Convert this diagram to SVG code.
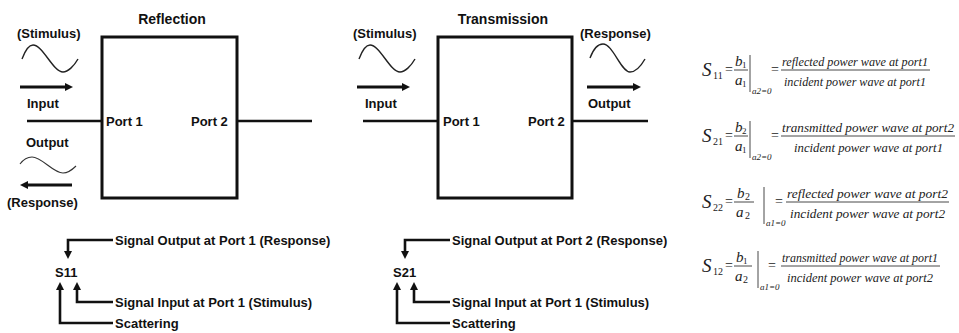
<svg xmlns="http://www.w3.org/2000/svg" width="959" height="333" viewBox="0 0 959 333">
<style>
.lbl{font-family:"Liberation Sans",Arial,sans-serif;font-weight:bold;font-size:13px;fill:#111}
.ttl{font-family:"Liberation Sans",Arial,sans-serif;font-weight:bold;font-size:14px;fill:#111}
.box{fill:none;stroke:#111;stroke-width:3}
.wire{stroke:#111;stroke-width:2.5;fill:none}
.wave{stroke:#222;stroke-width:1.4;fill:none}
.wave2{stroke:#333;stroke-width:1.1;fill:none}
.arr{stroke:#111;stroke-width:3;fill:none}
.conn{stroke:#111;stroke-width:2.6;fill:none}
.eq{font-family:"Liberation Serif","Times New Roman",serif;font-style:italic;fill:#222}
.eqr{font-family:"Liberation Serif","Times New Roman",serif;fill:#222}
.ft{font-family:"Liberation Serif","Times New Roman",serif;font-style:italic;fill:#222;font-size:13px}
.fl{stroke:#333;stroke-width:0.9}
</style>
<defs>
<marker id="ah" viewBox="0 0 10 10" markerUnits="userSpaceOnUse" markerWidth="8" markerHeight="10" refX="5" refY="5" orient="auto">
<path d="M0,0 L10,5 L0,10 z" fill="#111"/>
</marker>
</defs>
<rect width="959" height="333" fill="#fff"/>

<g id="reflection">
<text class="ttl" x="172" y="24" text-anchor="middle">Reflection</text>
<rect class="box" x="102" y="37" width="135" height="161"/>
<line class="wire" x1="27" y1="121" x2="102" y2="121"/>
<line class="wire" x1="237" y1="121" x2="312" y2="121"/>
<text class="lbl" x="106" y="126">Port 1</text>
<text class="lbl" x="191" y="126">Port 2</text>
<text class="lbl" x="17" y="38">(Stimulus)</text>
<path class="wave" d="M22,59 C25,51 28,45 33,45 C43,45 53,72 63,72 C68,72 74,66 78,59"/>
<line class="arr" x1="20" y1="87" x2="69" y2="87" marker-end="url(#ah)"/>
<text class="lbl" x="27" y="108">Input</text>
<text class="lbl" x="26" y="147">Output</text>
<path class="wave2" d="M20,164 C23,160 27,157 32,157 C42,157 53,173 63,173 C68,173 72,170 76,166"/>
<line class="arr" x1="72" y1="185" x2="24" y2="185" marker-end="url(#ah)"/>
<text class="lbl" x="7" y="207">(Response)</text>
</g>

<g id="transmission">
<text class="ttl" x="503" y="24" text-anchor="middle">Transmission</text>
<rect class="box" x="438" y="37" width="134" height="161"/>
<line class="wire" x1="363" y1="121" x2="438" y2="121"/>
<line class="wire" x1="572" y1="121" x2="648" y2="121"/>
<text class="lbl" x="443" y="126">Port 1</text>
<text class="lbl" x="528" y="126">Port 2</text>
<text class="lbl" x="353" y="38">(Stimulus)</text>
<path class="wave" d="M359,59 C362,51 365,45 370,45 C380,45 390,72 400,72 C405,72 411,66 415,59"/>
<line class="arr" x1="357" y1="87" x2="406" y2="87" marker-end="url(#ah)"/>
<text class="lbl" x="365" y="108">Input</text>
<text class="lbl" x="580" y="38">(Response)</text>
<path class="wave" d="M590,58 C593,50 597,44 603,44 C613,44 621,72 630,72 C636,72 641,66 645,59"/>
<line class="arr" x1="587" y1="87" x2="637" y2="87" marker-end="url(#ah)"/>
<text class="lbl" x="588" y="108">Output</text>
</g>

<g id="s11-legend">
<text class="lbl" x="55" y="277">S11</text>
<text class="lbl" x="115" y="245">Signal Output at Port 1 (Response)</text>
<text class="lbl" x="115" y="307">Signal Input at Port 1 (Stimulus)</text>
<text class="lbl" x="115" y="328">Scattering</text>
</g>
<g id="s21-legend">
<text class="lbl" x="393" y="277">S21</text>
<text class="lbl" x="452" y="245">Signal Output at Port 2 (Response)</text>
<text class="lbl" x="452" y="307">Signal Input at Port 1 (Stimulus)</text>
<text class="lbl" x="452" y="328">Scattering</text>
</g>

<g id="connectors">
<path class="conn" d="M113,240 H68 V255" marker-end="url(#ah)"/>
<path class="conn" d="M113,302 H77 V286" marker-end="url(#ah)"/>
<path class="conn" d="M113,323 H60 V286" marker-end="url(#ah)"/>
<path class="conn" d="M450,240 H405 V255" marker-end="url(#ah)"/>
<path class="conn" d="M450,302 H414 V286" marker-end="url(#ah)"/>
<path class="conn" d="M450,323 H397 V286" marker-end="url(#ah)"/>
</g>

<g id="eq-s11" transform="translate(0,70)">
<text class="eq" x="702" y="6" font-size="19">S</text>
<text class="eqr" x="713" y="9" font-size="10">11</text>
<text class="eqr" x="725" y="4" font-size="14">=</text>
<text class="eq" x="735" y="-4" font-size="15">b</text>
<text class="eqr" x="742" y="-2" font-size="9">1</text>
<line class="fl" x1="734" y1="0" x2="748" y2="0"/>
<text class="eq" x="735" y="15" font-size="15">a</text>
<text class="eqr" x="742" y="17" font-size="9">1</text>
<line class="fl" x1="750" y1="-15" x2="750" y2="22"/>
<text class="eq" x="752" y="24" font-size="9">a2=0</text>
<text class="eqr" x="771" y="4" font-size="14">=</text>
<line class="fl" x1="781" y1="0" x2="930" y2="0"/>
<text class="ft" x="782" y="-4" textLength="146" lengthAdjust="spacingAndGlyphs">reflected power wave at port1</text>
<text class="ft" x="784" y="16" textLength="142" lengthAdjust="spacingAndGlyphs">incident power wave at port1</text>
</g>

<g id="eq-s21" transform="translate(0,136)">
<text class="eq" x="702" y="6" font-size="19">S</text>
<text class="eqr" x="713" y="9" font-size="10">21</text>
<text class="eqr" x="725" y="4" font-size="14">=</text>
<text class="eq" x="735" y="-4" font-size="15">b</text>
<text class="eqr" x="742" y="-2" font-size="9">2</text>
<line class="fl" x1="734" y1="0" x2="748" y2="0"/>
<text class="eq" x="735" y="15" font-size="15">a</text>
<text class="eqr" x="742" y="17" font-size="9">1</text>
<line class="fl" x1="750" y1="-15" x2="750" y2="22"/>
<text class="eq" x="752" y="24" font-size="9">a2=0</text>
<text class="eqr" x="771" y="4" font-size="14">=</text>
<line class="fl" x1="781" y1="0" x2="955" y2="0"/>
<text class="ft" x="782" y="-4" textLength="172" lengthAdjust="spacingAndGlyphs">transmitted power wave at port2</text>
<text class="ft" x="794" y="16" textLength="149" lengthAdjust="spacingAndGlyphs">incident power wave at port1</text>
</g>

<g id="eq-s22" transform="translate(0,202)">
<text class="eq" x="702" y="6" font-size="19">S</text>
<text class="eqr" x="713" y="9" font-size="10">22</text>
<text class="eqr" x="725" y="4" font-size="14">=</text>
<text class="eq" x="737" y="-4" font-size="15">b</text>
<text class="eqr" x="745" y="-2" font-size="10">2</text>
<line class="fl" x1="734" y1="0" x2="754" y2="0"/>
<text class="eq" x="736" y="15" font-size="15">a</text>
<text class="eqr" x="745" y="17" font-size="10">2</text>
<line class="fl" x1="764" y1="-15" x2="764" y2="22"/>
<text class="eq" x="766" y="24" font-size="9">a1=0</text>
<text class="eqr" x="775" y="4" font-size="14">=</text>
<line class="fl" x1="786" y1="0" x2="949" y2="0"/>
<text class="ft" x="787" y="-4" textLength="161" lengthAdjust="spacingAndGlyphs">reflected power wave at port2</text>
<text class="ft" x="790" y="16" textLength="155" lengthAdjust="spacingAndGlyphs">incident power wave at port2</text>
</g>

<g id="eq-s12" transform="translate(0,266)">
<text class="eq" x="702" y="6" font-size="19">S</text>
<text class="eqr" x="713" y="9" font-size="10">12</text>
<text class="eqr" x="725" y="4" font-size="14">=</text>
<text class="eq" x="736" y="-4" font-size="15">b</text>
<text class="eqr" x="743" y="-2" font-size="9">1</text>
<line class="fl" x1="734" y1="0" x2="752" y2="0"/>
<text class="eq" x="735" y="15" font-size="15">a</text>
<text class="eqr" x="743" y="17" font-size="10">2</text>
<line class="fl" x1="758" y1="-15" x2="758" y2="22"/>
<text class="eq" x="760" y="24" font-size="9">a1=0</text>
<text class="eqr" x="768" y="4" font-size="14">=</text>
<line class="fl" x1="781" y1="0" x2="940" y2="0"/>
<text class="ft" x="782" y="-4" textLength="156" lengthAdjust="spacingAndGlyphs">transmitted power wave at port1</text>
<text class="ft" x="787" y="16" textLength="146" lengthAdjust="spacingAndGlyphs">incident power wave at port2</text>
</g>
</svg>
